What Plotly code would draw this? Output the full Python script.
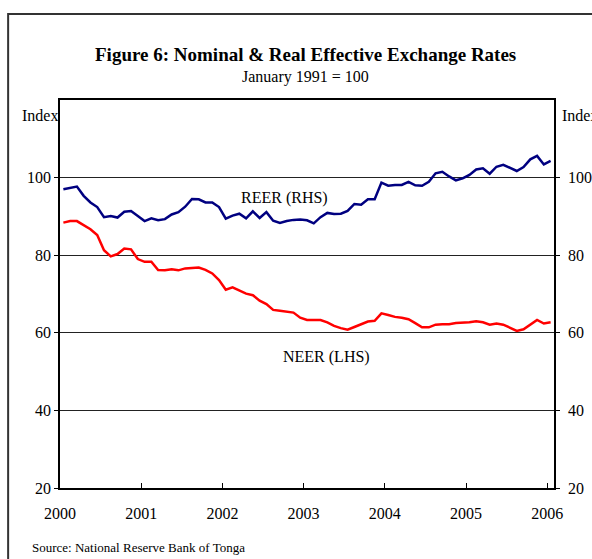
import plotly.graph_objects as go

# Monthly data, Jan 2000 - Jan 2006 (73 months)
reer = [97.0, 97.4, 97.7, 95.3, 93.6, 92.4, 89.8, 90.1, 89.7, 91.2, 91.4, 90.1,
        88.8, 89.5, 89.0, 89.3, 90.5, 91.1, 92.5, 94.5, 94.4, 93.6, 93.6, 92.4,
        89.4, 90.2, 90.7, 89.5, 91.3, 89.6, 91.1, 88.9, 88.3, 88.8, 89.1, 89.2,
        89.0, 88.2, 89.8, 90.9, 90.6, 90.7, 91.4, 93.2, 93.0, 94.4, 94.4, 98.7,
        97.9, 98.1, 98.1, 98.9, 98.0, 97.9, 98.9, 101.1, 101.5, 100.3, 99.3, 99.8,
        100.7, 102.1, 102.4, 101.0, 102.8, 103.3, 102.6, 101.7, 102.7, 104.7, 105.6, 103.4,
        104.3]
neer = [88.4, 88.8, 88.8, 87.8, 86.7, 85.2, 81.3, 79.7, 80.3, 81.7, 81.5, 79.0,
        78.3, 78.3, 76.2, 76.1, 76.4, 76.1, 76.6, 76.7, 76.8, 76.2, 75.3, 73.6,
        71.1, 71.7, 71.0, 70.1, 69.7, 68.3, 67.4, 65.9, 65.7, 65.4, 65.2, 63.9,
        63.3, 63.3, 63.3, 62.7, 61.8, 61.2, 60.8, 61.5, 62.1, 62.9, 63.1, 65.0,
        64.6, 64.1, 63.9, 63.5, 62.5, 61.4, 61.4, 62.1, 62.2, 62.2, 62.5, 62.6,
        62.7, 63.0, 62.7, 62.1, 62.4, 62.1, 61.4, 60.5, 60.9, 62.2, 63.3, 62.4,
        62.7]
year_labels = ["2000", "2001", "2002", "2003", "2004", "2005", "2006"]
y_ticks = [20, 40, 60, 80, 100]

n = len(reer)
xpos = [i + 0.5 for i in range(n)]

FONT = "Liberation Serif, Times New Roman, serif"

fig = go.Figure()
fig.add_trace(go.Scatter(x=xpos, y=neer, mode="lines", name="NEER (LHS)",
                         line=dict(color="#FF0000", width=2.5), yaxis="y"))
fig.add_trace(go.Scatter(x=xpos, y=reer, mode="lines", name="REER (RHS)",
                         line=dict(color="#000080", width=2.5), yaxis="y2"))

fig.update_layout(
    width=592, height=559,
    margin=dict(l=60, r=38, t=100, b=71, autoexpand=False),
    paper_bgcolor="white", plot_bgcolor="white",
    showlegend=False,
    font=dict(family=FONT, size=16, color="black"),
    xaxis=dict(range=[0, n], tickvals=[12 * k for k in range(len(year_labels))],
               ticktext=year_labels, ticks="inside", ticklen=5, tickcolor="black",
               showline=True, linecolor="black", linewidth=1.5, mirror=True,
               showgrid=False, zeroline=False, ticklabelstandoff=10, automargin=False,
               tickfont=dict(family=FONT, size=16)),
    yaxis=dict(range=[20, 120], tickvals=y_ticks, ticks="outside", ticklen=4,
               tickcolor="black", showline=True, linecolor="black", linewidth=1.5,
               mirror=True, showgrid=True, gridcolor="#222", gridwidth=1, automargin=False,
               zeroline=False, ticklabelstandoff=0, tickfont=dict(family=FONT, size=16)),
    yaxis2=dict(range=[20, 120], tickvals=y_ticks, ticks="outside", ticklen=4,
                tickcolor="black", overlaying="y", side="right", showgrid=False,
                zeroline=False, showline=True, linecolor="black", linewidth=1.5,
                automargin=False, ticklabelstandoff=5, tickfont=dict(family=FONT, size=16)),
)

annos = [
    dict(text="<b>Figure 6: Nominal & Real Effective Exchange Rates</b>", x=0.496, y=1.116,
         font=dict(size=19), xanchor="center", yanchor="middle"),
    dict(text="January 1991 = 100", x=0.496, y=1.059, font=dict(size=16),
         xanchor="center", yanchor="middle"),
    dict(text="Index", x=0, y=0.959, xanchor="right", yanchor="middle", font=dict(size=16)),
    dict(text="Index", x=1.012, y=0.959, xanchor="left", yanchor="middle", font=dict(size=16)),
    dict(text="REER (RHS)", x=0.455, y=0.747, xanchor="center", yanchor="middle", font=dict(size=16)),
    dict(text="NEER (LHS)", x=0.540, y=0.338, xanchor="center", yanchor="middle", font=dict(size=16)),
    dict(text="Source: National Reserve Bank of Tonga", x=-0.0607, y=-0.1546,
         xanchor="left", yanchor="middle", font=dict(size=13)),
]
for a in annos:
    fig.add_annotation(xref="paper", yref="paper", showarrow=False, **a)

# outer frame
fig.add_shape(type="rect", xref="paper", yref="paper", x0=-0.105, y0=-0.4, x1=1.3, y1=1.2216,
              line=dict(color="#333", width=2), fillcolor="rgba(0,0,0,0)", layer="below")

fig.write_html(
    "out.html",
    config={"responsive": False, "displayModeBar": False},
    post_script="document.body.style.margin='0';document.body.style.overflow='hidden';",
)
